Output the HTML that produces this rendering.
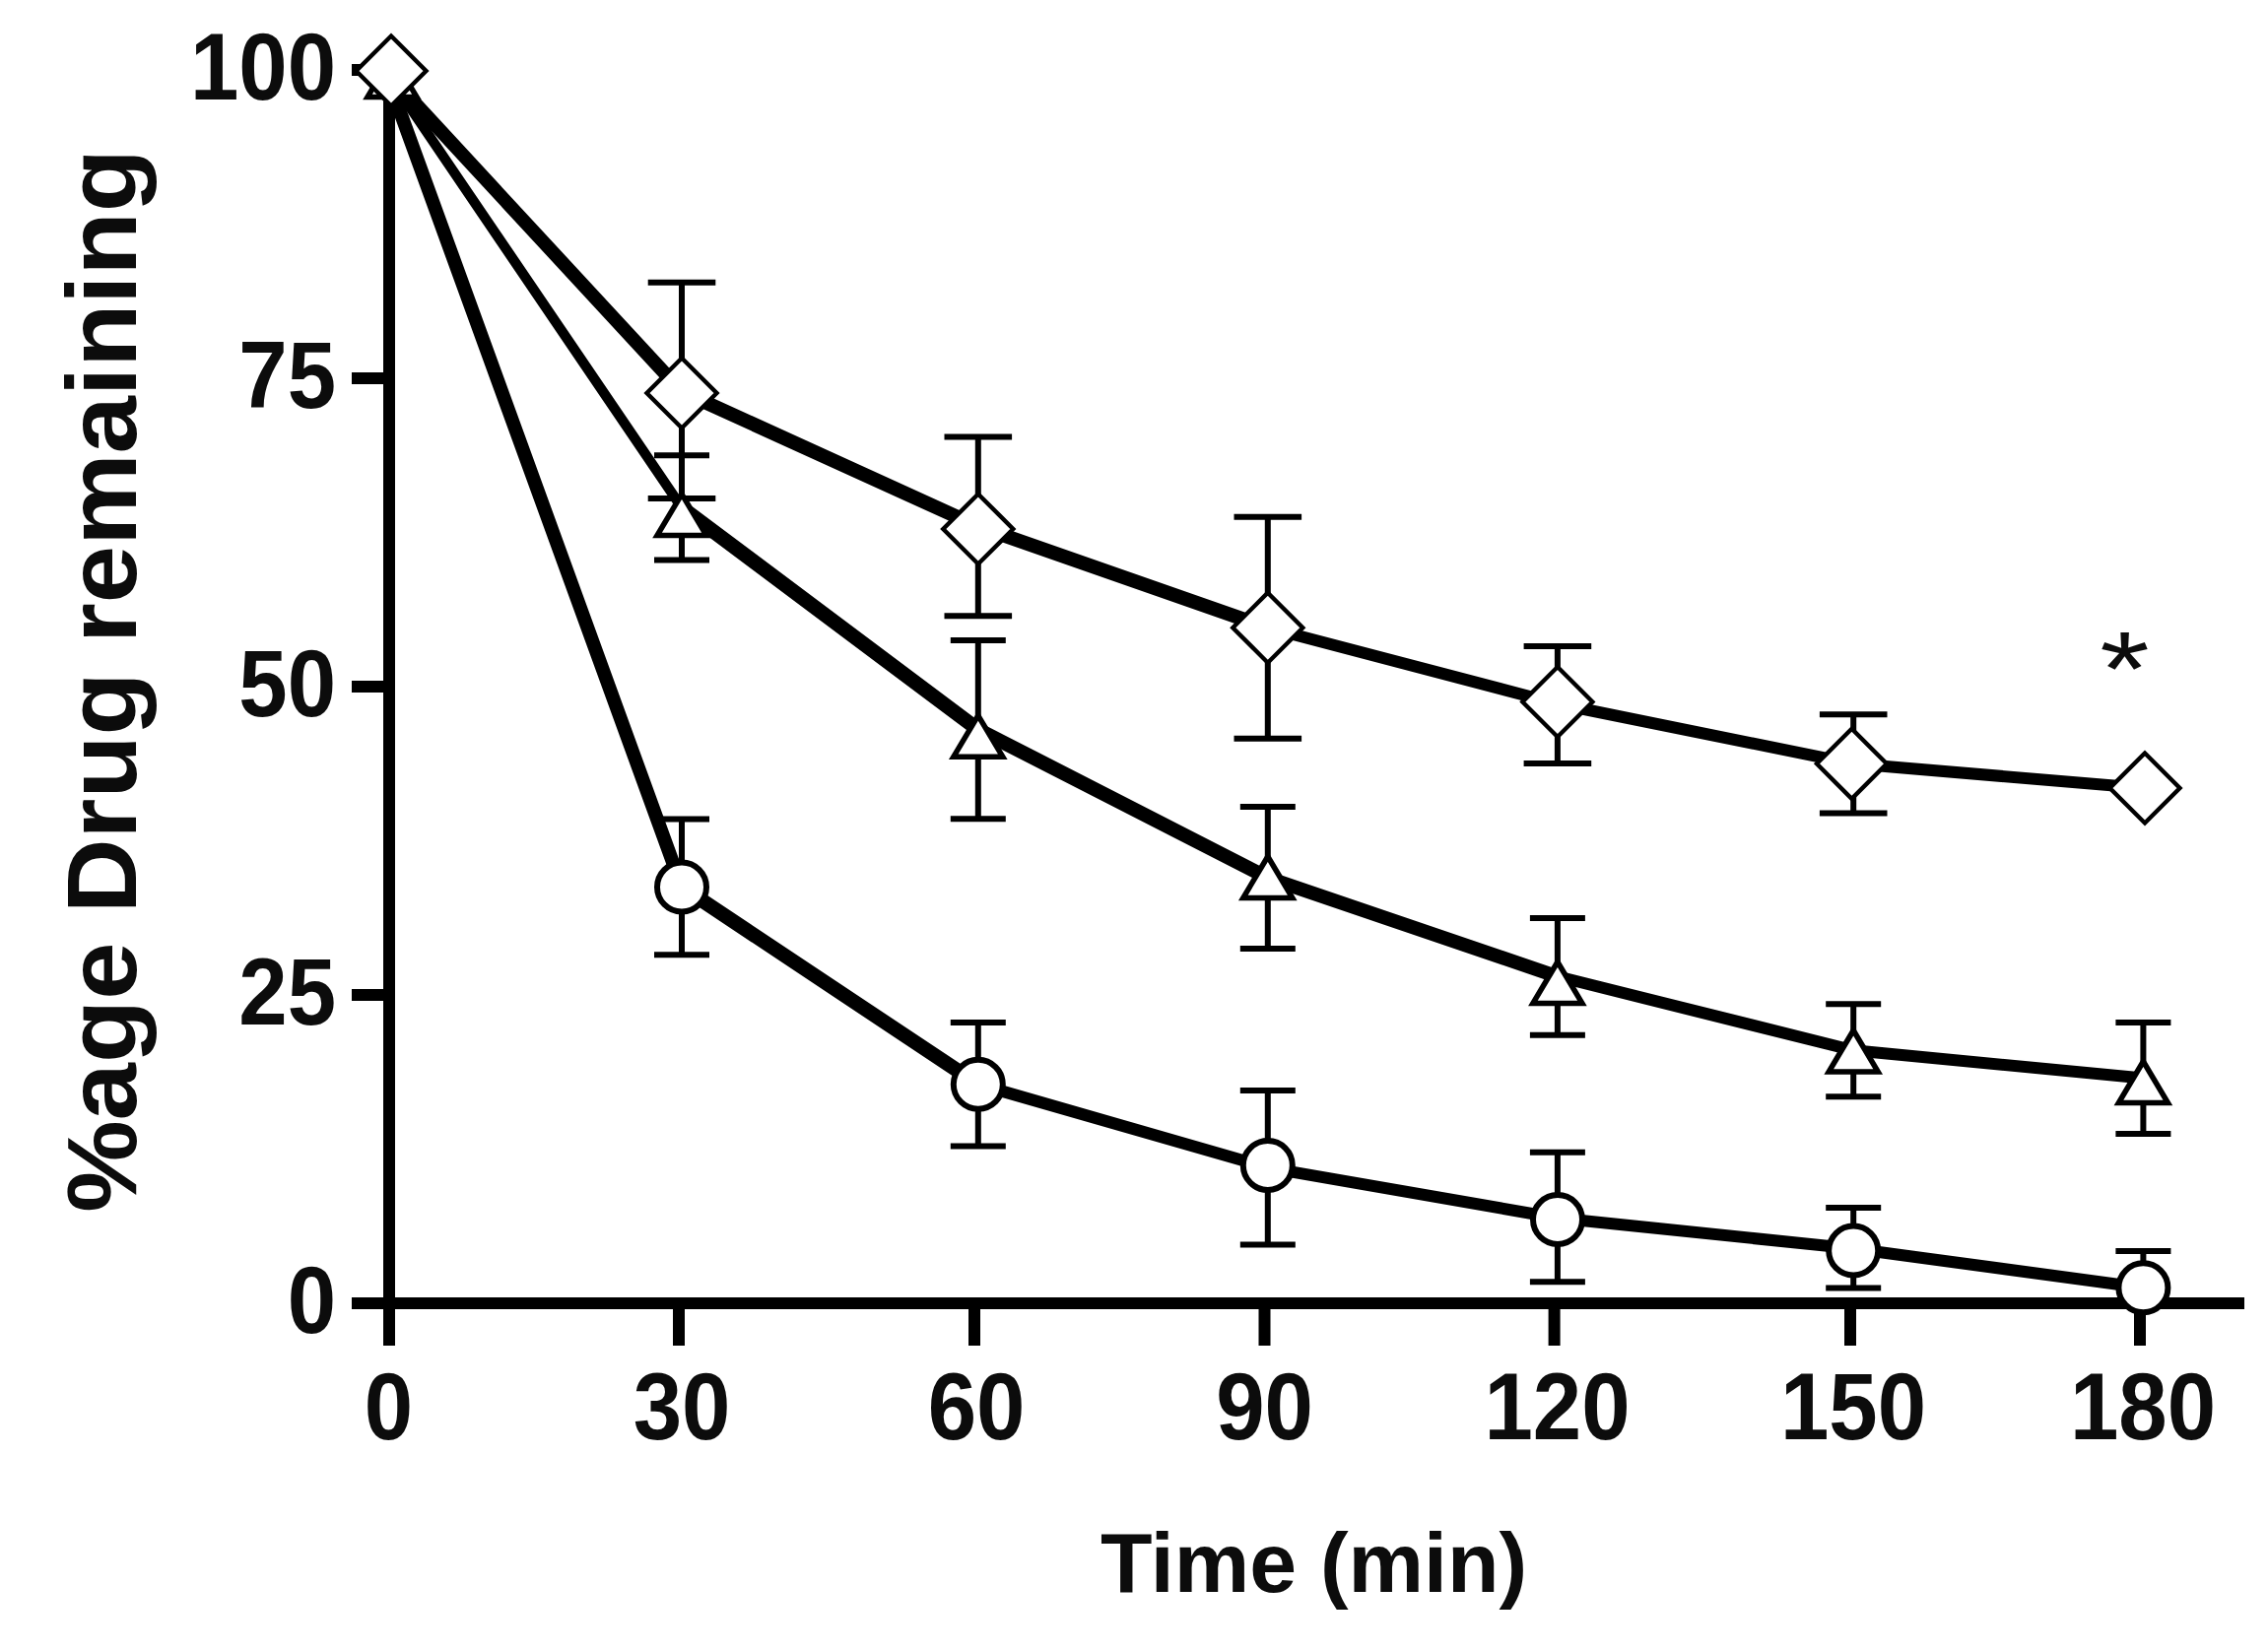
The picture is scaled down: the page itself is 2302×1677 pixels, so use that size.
<!DOCTYPE html>
<html><head><meta charset="utf-8"><title>%age Drug remaining vs Time (min)</title><style>html,body{margin:0;padding:0;background:#fff;overflow:hidden}svg{display:block}</style></head><body>
<svg width="2302" height="1677" viewBox="0 0 2302 1677">
<rect width="2302" height="1677" fill="#fff"/>
<g fill="#000">
<rect x="389" y="65" width="12" height="1301"/>
<rect x="357" y="1317" width="1921" height="12"/>
<rect x="357" y="65" width="32" height="12"/>
<rect x="357" y="378" width="32" height="12"/>
<rect x="357" y="691" width="32" height="12"/>
<rect x="357" y="1004" width="32" height="12"/>
<rect x="683" y="1329" width="12" height="37"/>
<rect x="983" y="1329" width="12" height="37"/>
<rect x="1277.5" y="1329" width="12" height="37"/>
<rect x="1571.6" y="1329" width="12" height="37"/>
<rect x="1872" y="1329" width="12" height="37"/>
<rect x="2166" y="1329" width="12" height="37"/>
</g>
<g stroke="#000" stroke-width="6" fill="none">
<path d="M692 831.5V969.3M664 831.5H720M664 969.3H720M992.8 1038V1163.4M964.8 1038H1020.8M964.8 1163.4H1020.8M1286.8 1107.1V1263.4M1258.8 1107.1H1314.8M1258.8 1263.4H1314.8M1580.9 1169.8V1301.3M1552.9 1169.8H1608.9M1552.9 1301.3H1608.9M1881.2 1225.9V1307.4M1853.2 1225.9H1909.2M1853.2 1307.4H1909.2M2175.4 1269.9V1307.2M2147.4 1269.9H2203.4"/>
<path d="M692 462.2V568.4M664 462.2H720M664 568.4H720M992.8 650V831.2M964.8 650H1020.8M964.8 831.2H1020.8M1286.8 819.1V963.1M1258.8 819.1H1314.8M1258.8 963.1H1314.8M1580.9 932V1050.7M1552.9 932H1608.9M1552.9 1050.7H1608.9M1881.2 1019.3V1113.2M1853.2 1019.3H1909.2M1853.2 1113.2H1909.2M2175.4 1038V1150.9M2147.4 1038H2203.4M2147.4 1150.9H2203.4"/>
<path d="M692 286.7V505.9M657.7 286.7H726.3M657.7 505.9H726.3M992.8 443.5V625.3M958.5 443.5H1027.1M958.5 625.3H1027.1M1286.8 524.7V749.7M1252.5 524.7H1321.1M1252.5 749.7H1321.1M1580.9 656.1V775M1546.6 656.1H1615.2M1546.6 775H1615.2M1881.2 725.2V825.4M1846.9 725.2H1915.5M1846.9 825.4H1915.5"/>
</g>
<g stroke="#000" fill="none" stroke-linecap="round">
<line x1="391" y1="72" x2="692" y2="900.4" stroke-width="13.8"/>
<line x1="692" y1="900.4" x2="992.8" y2="1100.7" stroke-width="14.63"/>
<line x1="992.8" y1="1100.7" x2="1286.8" y2="1185.3" stroke-width="12.04"/>
<line x1="1286.8" y1="1185.3" x2="1580.9" y2="1236.5" stroke-width="12"/>
<line x1="1580.9" y1="1236.5" x2="1881.2" y2="1267.5" stroke-width="12"/>
<line x1="1881.2" y1="1267.5" x2="2175.4" y2="1307.2" stroke-width="12"/>
<line x1="391" y1="72" x2="692" y2="515.3" stroke-width="10.2"/>
<line x1="692" y1="515.3" x2="992.8" y2="740.6" stroke-width="14.79"/>
<line x1="992.8" y1="740.6" x2="1286.8" y2="891.1" stroke-width="14.31"/>
<line x1="1286.8" y1="891.1" x2="1580.9" y2="991.3" stroke-width="14.01"/>
<line x1="1580.9" y1="991.3" x2="1881.2" y2="1066.3" stroke-width="12"/>
<line x1="1881.2" y1="1066.3" x2="2175.4" y2="1094.5" stroke-width="12"/>
<line x1="391" y1="72" x2="692" y2="397.5" stroke-width="13.78"/>
<line x1="692" y1="397.5" x2="992.8" y2="534.4" stroke-width="14.18"/>
<line x1="992.8" y1="534.4" x2="1286.8" y2="637.2" stroke-width="14.02"/>
<line x1="1286.8" y1="637.2" x2="1580.9" y2="714.5" stroke-width="12"/>
<line x1="1580.9" y1="714.5" x2="1881.2" y2="775.3" stroke-width="12"/>
<line x1="1881.2" y1="775.3" x2="2175.4" y2="800" stroke-width="12"/>
</g>
<g stroke="#000" fill="#fff">
<circle cx="692" cy="900.5" r="25" stroke-width="6"/>
<circle cx="992.8" cy="1100.7" r="25" stroke-width="6"/>
<circle cx="1286.8" cy="1183" r="25" stroke-width="6"/>
<circle cx="1581" cy="1238" r="25" stroke-width="6"/>
<circle cx="1881.2" cy="1269.5" r="25" stroke-width="6"/>
<circle cx="2175.4" cy="1307.2" r="25" stroke-width="6"/>
<path stroke-width="5.5" d="M398 56.5L423 98.5L373 98.5Z"/>
<path stroke-width="5.5" d="M692 501.6L717 543.6L667 543.6Z"/>
<path stroke-width="5.5" d="M992.8 726.3L1017.8 768.3L967.8 768.3Z"/>
<path stroke-width="5.5" d="M1286.8 869.5L1311.8 911.5L1261.8 911.5Z"/>
<path stroke-width="5.5" d="M1580.9 976.5L1605.9 1018.5L1555.9 1018.5Z"/>
<path stroke-width="5.5" d="M1881.2 1046L1906.2 1088L1856.2 1088Z"/>
<path stroke-width="5.5" d="M2175.4 1077.5L2200.4 1119.5L2150.4 1119.5Z"/>
<path stroke-width="4.4" d="M397 36.5L432.5 72L397 107.5L361.5 72Z"/>
<path stroke-width="4.4" d="M692 363.5L727.5 399L692 434.5L656.5 399Z"/>
<path stroke-width="4.4" d="M992.8 501.5L1028.3 537L992.8 572.5L957.3 537Z"/>
<path stroke-width="4.4" d="M1286.8 601.7L1322.3 637.2L1286.8 672.7L1251.3 637.2Z"/>
<path stroke-width="4.4" d="M1580.9 677L1616.4 712.5L1580.9 748L1545.4 712.5Z"/>
<path stroke-width="4.4" d="M1879.5 739.8L1915 775.3L1879.5 810.8L1844 775.3Z"/>
<path stroke-width="4.4" d="M2177 764.5L2212.5 800L2177 835.5L2141.5 800Z"/>
</g>
<g font-family="'Liberation Sans', Arial, Helvetica, sans-serif" font-weight="bold" fill="#0c0c0c">
<text transform="translate(341 100.5) scale(0.915 1)" font-size="97" text-anchor="end">100</text>
<text transform="translate(341 414) scale(0.915 1)" font-size="97" text-anchor="end">75</text>
<text transform="translate(341 726.5) scale(0.915 1)" font-size="97" text-anchor="end">50</text>
<text transform="translate(341 1040) scale(0.915 1)" font-size="97" text-anchor="end">25</text>
<text transform="translate(341 1353) scale(0.915 1)" font-size="97" text-anchor="end">0</text>
<text transform="translate(394.5 1460.5) scale(0.915 1)" font-size="97" text-anchor="middle">0</text>
<text transform="translate(692 1460.5) scale(0.915 1)" font-size="97" text-anchor="middle">30</text>
<text transform="translate(991 1460.5) scale(0.915 1)" font-size="97" text-anchor="middle">60</text>
<text transform="translate(1283.5 1460.5) scale(0.915 1)" font-size="97" text-anchor="middle">90</text>
<text transform="translate(1580.5 1460.5) scale(0.915 1)" font-size="97" text-anchor="middle">120</text>
<text transform="translate(1881 1460.5) scale(0.915 1)" font-size="97" text-anchor="middle">150</text>
<text transform="translate(2175 1460.5) scale(0.915 1)" font-size="97" text-anchor="middle">180</text>
<text x="1333.5" y="1616.4" font-size="86" text-anchor="middle">Time (min)</text>
<text transform="translate(138.3 691) rotate(-90) scale(1.04 1)" font-size="101" text-anchor="middle">%age Drug remaining</text>
<text transform="translate(2156.5 716) scale(1.2 1)" font-size="108" font-weight="normal" text-anchor="middle">*</text>
</g>
</svg>
</body></html>
